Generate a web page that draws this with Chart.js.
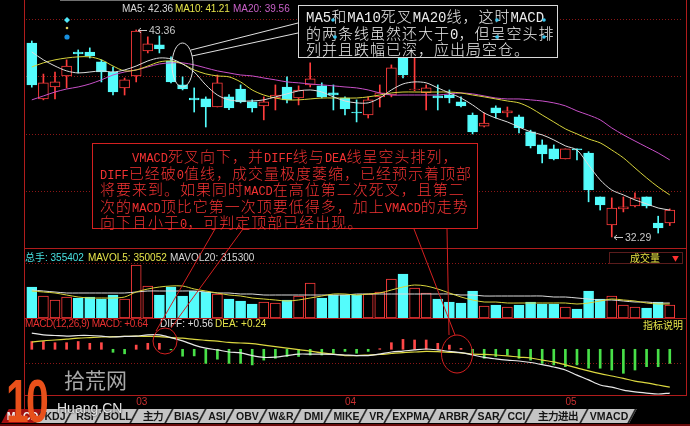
<!DOCTYPE html>
<html lang="zh-CN">
<head>
<meta charset="utf-8">
<title>MACD 顶部形态</title>
<script src="https://cdn.jsdelivr.net/npm/chart.js@4.4.1/dist/chart.umd.min.js"></script>
<style>
html, body { margin: 0; padding: 0; background: #000; }
#stage { position: relative; width: 690px; height: 426px; overflow: hidden; background: #000;
  font-family: "Liberation Sans", Arial, sans-serif; }
.pane { position: absolute; left: 26px; width: 657px; }
.txt { position: absolute; font-size: 10px; line-height: 12px; white-space: nowrap; }
.rule { position: absolute; background: #b01c1c; }
.note { position: absolute; background: #000; white-space: nowrap; font-family: "Noto Sans CJK SC", sans-serif;
  font-size: 15px; line-height: 16.5px; letter-spacing: 1px; font-weight: 300; }
.note i { font-style: normal; font-family: "Liberation Mono", monospace; letter-spacing: 0; line-height: 0; }
#n1 { left: 298px; top: 5px; width: 251px; height: 49px; padding: 2px 0 0 7px; border: 1px solid #d8d8d8; color: #ececec; }
#n1 i { font-size: 14px; }
#n2 { left: 92px; top: 143px; width: 377px; height: 80px; padding: 4px 0 0 7px; border: 1px solid #d42020; color: #f23232; }
#n2 i { font-size: 12px; }
#volbox { position: absolute; left: 609px; top: 252px; width: 72px; height: 10px; border: 1px solid #5a1c1c;
  font-family: "Noto Sans CJK SC", sans-serif; font-size: 10px; line-height: 10px; color: #e8e040; }
#tabs { position: absolute; left: 5px; top: 409px; height: 14px; display: flex; }
.tab { position: relative; height: 14px; }
.tab::before { content: ""; position: absolute; left: 0; right: 0; top: 0; bottom: 0; background: #c4c4c4;
  border-right: 2px solid #2a2a2a; transform: skewX(-28deg); }
.tab.sel::before { background: #a01010; }
.tab b { position: relative; display: block; text-align: center; font: bold 10.5px "Liberation Sans", Arial, sans-serif;
  line-height: 14px; color: #141414; }
.tab.sel b { color: #f0f0f0; }
#logo10 { position: absolute; left: 6px; top: 366px; font: bold 62px "Liberation Sans", Arial, sans-serif;
  color: #e8501a; letter-spacing: -4px; transform: scaleX(0.66); transform-origin: left top; line-height: 70px; }
#logocn { position: absolute; left: 64px; top: 366px; font-family: "Noto Sans CJK SC", sans-serif; font-size: 21px;
  line-height: 26px; color: #a8a8a8; }
#logoen { position: absolute; left: 57px; top: 400px; font-size: 14px; line-height: 17px; color: #e4e4e4;
  text-shadow: 0 0 2px #000; }
</style>
</head>
<body>
<div id="stage">
  <div class="pane" style="top:0;height:248px"><canvas id="kline" width="657" height="248"></canvas></div>
  <div class="pane" style="top:248px;height:70px"><canvas id="vol" width="657" height="70"></canvas></div>
  <div class="pane" style="top:318px;height:91px"><canvas id="macd" width="657" height="91"></canvas></div>

  <div class="rule" style="left:24px;top:0;width:1px;height:409px"></div>
  <div class="rule" style="left:686px;top:0;width:1px;height:396px"></div>
  <div class="rule" style="left:25px;top:248px;width:661px;height:1px"></div>
  <div class="rule" style="left:25px;top:318px;width:661px;height:1px"></div>
  <div class="rule" style="left:25px;top:395px;width:661px;height:1px"></div>
  <div style="position:absolute;left:60px;top:0;width:170px;height:1px;background:#707070"></div>

  <div class="txt" style="left:122px;top:3px;color:#d8d8d8">MA5: 42.36</div>
  <div class="txt" style="left:175px;top:3px;color:#e6e44a;letter-spacing:-0.2px">MA10: 41.21</div>
  <div class="txt" style="left:233px;top:3px;color:#c860c8">MA20: 39.56</div>

  <div class="txt" style="left:25px;top:252px;color:#48e0e0">总手: 355402</div>
  <div class="txt" style="left:88px;top:252px;color:#e6e44a">MAVOL5: 350052</div>
  <div class="txt" style="left:170px;top:252px;color:#d8d8d8">MAVOL20: 315300</div>
  <div id="volbox"><span style="position:absolute;left:20px;top:0">成交量</span><span style="position:absolute;right:3px;top:0;color:#ff3030;font-size:7px">▼</span></div>

  <div class="txt" style="left:25px;top:318px;color:#e83030;letter-spacing:-0.4px">MACD(12,26,9) MACD: +0.64</div>
  <div class="txt" style="left:160px;top:318px;color:#e0e0e0">DIFF: +0.56</div>
  <div class="txt" style="left:215px;top:318px;color:#e6e44a">DEA: +0.24</div>
  <div class="txt" style="left:643px;top:319px;color:#e6e44a;font-family:'Noto Sans CJK SC',sans-serif">指标说明</div>

  <div class="note" id="n1"><i>MA5</i>和<i>MA10</i>死叉<i>MA20</i>线，这时<i>MACD</i><br>的两条线虽然还大于<i>0</i>，但呈空头排<br>列并且跌幅已深，应出局空仓。</div>
  <div class="note" id="n2">　　<i>VMACD</i>死叉向下，并<i>DIFF</i>线与<i>DEA</i>线呈空头排列，<br><i>DIFF</i>已经破<i>0</i>值线，成交量极度萎缩，已经预示着顶部<br>将要来到。如果同时<i>MACD</i>在高位第二次死叉，且第二<br>次的<i>MACD</i>顶比它第一次顶要低得多，加上<i>VMACD</i>的走势<br>向下且小于<i>0</i>，可判定顶部已经出现。</div>

  <svg width="690" height="426" style="position:absolute;left:0;top:0">
    <g fill="none" stroke-width="1">
      <ellipse cx="182.5" cy="65" rx="10.5" ry="22" stroke="#e0e0e0"/>
      <line x1="191" y1="50" x2="298" y2="23" stroke="#e0e0e0"/>
      <line x1="192" y1="56" x2="298" y2="33" stroke="#e0e0e0"/>
      <ellipse cx="165" cy="341" rx="12" ry="13" stroke="#d42020"/>
      <ellipse cx="457" cy="354" rx="15.5" ry="19" stroke="#d42020"/>
      <line x1="215" y1="229" x2="156" y2="331" stroke="#d42020"/>
      <line x1="243" y1="229" x2="171" y2="328" stroke="#d42020"/>
      <line x1="414" y1="229" x2="455" y2="335" stroke="#d42020"/>
      <line x1="447" y1="229" x2="449" y2="335" stroke="#d42020"/>
    </g>
    <g fill="#38c8f0">
      <path d="M67 17 L70 20 L67 23 L64 20 Z" fill="#50e8f8"/>
      <circle cx="67" cy="28" r="1.3" fill="#e0d060"/>
      <circle cx="67" cy="37" r="2.6" fill="#1890e0"/>
      <circle cx="333" cy="20" r="1.8"/><circle cx="335" cy="37" r="1.8"/>
      <circle cx="497" cy="20" r="1.8"/><circle cx="497" cy="37" r="1.8"/>
      <circle cx="544" cy="20" r="1.8"/><circle cx="544" cy="37" r="1.8"/>
    </g>
  </svg>

  <div id="tabs"></div>
  <div style="position:absolute;left:0;top:424px;width:690px;height:2px;background:#6a0a0a"></div>
  <div id="logo10">10</div>
  <div id="logocn">拾荒网</div>
  <div id="logoen">Huang.CN</div>
</div>

<script>
// daily candles (left to right)
const open = [42.66,39.67,40.31,40.90,42.18,42.18,41.65,41.11,40.26,40.90,
  42.24,42.56,41.70,40.42,39.72,39.67,39.24,39.78,40.20,39.51,
  39.30,39.72,40.31,39.72,40.42,40.37,39.99,39.72,38.97,38.81,
  39.78,39.88,42.29,40.15,40.00,39.83,39.88,39.51,38.81,38.22,
  39.19,38.92,38.71,37.91,37.21,37.00,36.46,37.00,36.78,34.43,
  32.93,33.79,33.95,34.43,33.03,33.04];
const high = [42.77,41.00,41.11,41.76,42.29,42.40,41.76,41.38,40.79,43.36,
  42.99,43.04,41.92,40.85,40.26,39.78,40.95,39.90,40.42,39.62,
  39.78,40.42,40.85,40.37,41.60,40.53,40.42,39.78,39.62,39.78,
  40.42,41.49,42.45,42.02,40.42,40.42,40.15,39.78,38.92,38.92,
  39.30,39.24,38.81,38.00,37.48,37.21,37.00,37.00,36.85,34.43,
  34.38,34.43,34.65,34.43,33.40,33.79];
const low = [40.30,39.62,39.67,40.26,41.06,41.86,40.58,39.88,39.88,40.58,
  42.13,42.13,40.53,40.15,38.97,38.17,39.24,39.10,39.46,38.97,
  38.55,39.08,39.46,39.35,40.31,39.72,39.08,38.81,38.44,38.65,
  39.24,39.78,40.79,40.10,39.08,39.08,39.46,39.24,37.80,38.17,
  38.65,38.71,37.85,37.05,36.25,36.41,36.46,36.41,34.17,33.73,
  32.29,33.63,33.90,33.84,32.50,32.90];
const close = [40.42,40.53,40.58,41.43,42.08,41.97,41.11,40.04,40.69,43.30,
  42.61,42.34,40.58,40.20,39.62,39.24,40.53,39.19,39.51,39.19,
  39.51,39.88,39.62,40.15,40.74,39.78,39.88,39.14,38.92,39.62,
  39.99,41.33,40.95,40.20,40.26,39.72,39.72,39.30,37.91,38.38,
  38.92,39.03,38.12,37.16,36.73,36.46,37.00,36.94,34.80,34.00,
  33.84,33.90,34.38,33.95,32.77,33.73];

const ma5 = [42.18,41.76,41.43,41.17,41.06,41.11,41.17,41.11,41.22,41.43,
  41.70,41.86,41.81,41.54,41.11,40.42,39.88,39.62,39.56,39.56,
  39.62,39.78,39.94,40.10,40.15,40.04,39.78,39.56,39.46,39.46,
  39.72,40.15,40.47,40.58,40.53,40.26,39.99,39.72,39.35,38.92,
  38.65,38.44,38.17,37.91,37.75,37.48,37.16,36.94,36.14,35.34,
  34.80,34.54,34.27,34.06,33.84,33.73];
const ma10 = [41.38,41.60,41.76,41.86,41.92,41.92,41.76,41.43,41.17,41.22,
  41.43,41.65,41.70,41.54,41.22,41.01,40.90,40.85,40.58,40.15,
  39.88,39.72,39.62,39.62,39.67,39.72,39.72,39.72,39.72,39.78,
  39.88,39.99,40.04,40.04,40.04,40.04,40.04,39.99,39.88,39.78,
  39.67,39.56,39.46,39.19,38.81,38.44,38.07,37.80,37.53,37.32,
  36.94,36.52,35.98,35.45,34.96,34.54];
const ma20 = [39.62,39.83,40.04,40.20,40.31,40.47,40.69,40.95,41.11,41.22,
  41.38,41.54,41.60,41.60,41.49,41.33,41.17,41.06,40.95,40.90,
  40.79,40.69,40.58,40.53,40.47,40.42,40.37,40.31,40.26,40.15,
  39.99,39.88,39.88,39.88,39.88,39.88,39.94,39.99,39.94,39.83,
  39.72,39.67,39.67,39.62,39.56,39.46,39.30,39.03,38.81,38.55,
  38.12,37.75,37.42,37.10,36.78,36.41];

const volume = [465000,330000,270000,315000,300000,315000,285000,345000,285000,795000,
  480000,345000,465000,330000,405000,390000,360000,285000,255000,210000,
  240000,225000,270000,330000,525000,300000,345000,345000,345000,360000,
  390000,585000,660000,450000,375000,285000,240000,225000,405000,180000,
  195000,165000,195000,240000,210000,210000,165000,135000,405000,285000,
  330000,195000,165000,150000,240000,195000];
const mavol5 = [405000,390000,375000,345000,315000,300000,300000,300000,315000,390000,
  435000,465000,480000,480000,435000,405000,375000,345000,330000,300000,
  285000,270000,255000,270000,300000,330000,360000,360000,345000,360000,
  375000,420000,465000,495000,480000,435000,375000,315000,270000,240000,
  240000,225000,225000,225000,225000,225000,225000,210000,225000,255000,
  285000,270000,255000,225000,210000,210000];
const mavol20 = [420000,405000,390000,375000,375000,375000,375000,375000,375000,390000,
  405000,405000,405000,405000,405000,390000,375000,375000,360000,360000,
  345000,345000,345000,345000,345000,345000,345000,345000,360000,360000,
  360000,360000,360000,360000,360000,360000,360000,345000,345000,330000,
  330000,330000,330000,330000,330000,315000,315000,300000,285000,270000,
  270000,255000,240000,240000,225000,225000];

const diff = [0.54,0.48,0.46,0.44,0.46,0.46,0.44,0.41,0.43,0.44,
  0.48,0.48,0.39,0.28,0.14,0.04,-0.02,-0.09,-0.12,-0.21,
  -0.27,-0.26,-0.21,-0.16,-0.16,-0.16,-0.17,-0.19,-0.21,-0.21,
  -0.16,-0.09,-0.06,-0.02,0.01,-0.02,-0.07,-0.11,-0.19,-0.27,
  -0.32,-0.36,-0.39,-0.44,-0.51,-0.59,-0.69,-0.86,-1.02,-1.19,
  -1.26,-1.36,-1.42,-1.46,-1.49,-1.46];
const dea = [0.24,0.28,0.31,0.34,0.37,0.39,0.41,0.42,0.43,0.44,
  0.43,0.42,0.39,0.37,0.33,0.30,0.27,0.23,0.21,0.19,
  0.14,0.09,0.04,-0.01,-0.06,-0.12,-0.16,-0.21,-0.21,-0.19,
  -0.17,-0.14,-0.11,-0.09,-0.07,-0.08,-0.10,-0.12,-0.16,-0.17,
  -0.19,-0.22,-0.26,-0.29,-0.36,-0.42,-0.52,-0.62,-0.72,-0.81,
  -0.89,-0.97,-1.06,-1.12,-1.19,-1.26];
const macdBar = [0.26,0.26,0.22,0.22,0.26,0.20,0.22,-0.10,-0.15,0.14,
  0.20,0.20,-0.02,-0.23,-0.22,-0.47,-0.33,-0.47,-0.47,-0.52,
  -0.36,-0.30,-0.24,-0.24,-0.19,-0.19,-0.13,-0.07,-0.13,-0.07,
  0.02,0.22,0.33,0.31,0.31,0.20,0.14,0.03,-0.13,-0.30,
  -0.24,-0.19,-0.30,-0.36,-0.47,-0.52,-0.58,-0.52,-0.63,-0.63,
  -0.69,-0.80,-0.69,-0.58,-0.58,-0.47];

// month marks on the date axis (candle number where a month starts)
const monthAt = [10, 28, 47];
const monthLabels = ["03", "04", "05"];

// dotted grid levels
const priceGrid = [43.9, 40.85, 37.75, 34.7];
const volGrid = [810000];
const macdGrid = [-0.46];

const tabs = [["MACD",35],["KDJ",30],["RSI",30],["BOLL",35],["主力",35],["BIAS",33],["ASI",28],["OBV",33],
  ["W&R",34],["DMI",31],["MIKE",35],["VR",25],["EXPMA",44],["ARBR",41],["SAR",29],["CCI",27],["主力进出",55],["VMACD",48]];

const UP = "#ff3c3c";
const DOWN = "#54fcfc";
const GRID = "#8a1616";

const xs = open.map((_, i) => i + 1);
const isUp = xs.map((_, i) => close[i] >= open[i]);
const pts = arr => arr.map((v, i) => ({ x: i + 1, y: v }));

function xAxis(show) {
    return {
        type: "linear",
        min: 0.5,
        max: 57.14,
        offset: false,
        display: show,
        grid: { display: false, drawTicks: false },
        border: { display: false },
        afterBuildTicks: axis => { axis.ticks = monthAt.map(v => ({ value: v })); },
        ticks: {
            callback: (v, i) => monthLabels[i],
            align: "start",
            color: "#c83030",
            font: { size: 10, family: "Liberation Sans" },
            padding: 1,
            maxRotation: 0,
            autoSkip: false
        }
    };
}

function yAxis(min, max, levels) {
    return {
        min: min,
        max: max,
        beginAtZero: false,
        afterBuildTicks: axis => { axis.ticks = levels.map(v => ({ value: v })); },
        ticks: { display: false },
        grid: { color: GRID, drawTicks: false },
        border: { display: false, dash: [1, 2] }
    };
}

function line(data, color, width) {
    return {
        type: "line",
        data: pts(data),
        borderColor: color,
        borderWidth: width || 1,
        pointRadius: 0,
        tension: 0.3,
        order: 0
    };
}

const baseOptions = {
    responsive: false,
    animation: false,
    events: [],
    layout: { padding: 0 },
    plugins: { legend: { display: false }, tooltip: { enabled: false } }
};

// marks the highest high and lowest low with an arrow and the price
const hiLoMarks = {
    id: "hiLoMarks",
    afterDatasetsDraw(chart) {
        const { ctx, scales } = chart;
        const hi = Math.max(...high);
        const lo = Math.min(...low);
        const marks = [[high.indexOf(hi) + 1, hi], [low.indexOf(lo) + 1, lo]];
        ctx.save();
        ctx.strokeStyle = "#c8c8c8";
        ctx.fillStyle = "#c8c8c8";
        ctx.lineWidth = 1;
        ctx.font = "10.5px 'Liberation Sans'";
        ctx.textBaseline = "middle";
        marks.forEach(([i, v]) => {
            const px = Math.round(scales.x.getPixelForValue(i)) + 2;
            const py = Math.round(scales.y.getPixelForValue(v)) + 0.5;
            ctx.beginPath();
            ctx.moveTo(px, py);
            ctx.lineTo(px + 9, py);
            ctx.moveTo(px, py);
            ctx.lineTo(px + 3, py - 2.5);
            ctx.moveTo(px, py);
            ctx.lineTo(px + 3, py + 2.5);
            ctx.stroke();
            ctx.fillText(v.toFixed(2), px + 11, py + 1);
        });
        ctx.restore();
    }
};

new Chart(document.getElementById("kline"), {
    type: "bar",
    data: {
        datasets: [
            line(ma5, "#dcdcdc"),
            line(ma10, "#d8d43c"),
            line(ma20, "#c850c8"),
            {
                data: xs.map((x, i) => ({ x: x, y: [open[i], close[i]] })),
                backgroundColor: isUp.map(u => u ? "#000" : DOWN),
                borderColor: isUp.map(u => u ? UP : DOWN),
                borderWidth: 1,
                borderSkipped: false,
                barThickness: 10,
                minBarLength: 1,
                grouped: false,
                order: 1
            },
            {
                data: xs.map((x, i) => ({ x: x, y: [low[i], high[i]] })),
                backgroundColor: isUp.map(u => u ? UP : DOWN),
                borderWidth: 0,
                barThickness: 1,
                grouped: false,
                order: 2
            }
        ]
    },
    options: {
        ...baseOptions,
        scales: {
            x: xAxis(false),
            y: yAxis(31.70, 44.96, priceGrid)
        }
    },
    plugins: [hiLoMarks]
});

new Chart(document.getElementById("vol"), {
    type: "bar",
    data: {
        datasets: [
            line(mavol5, "#d8d43c"),
            line(mavol20, "#dcdcdc"),
            {
                data: pts(volume),
                backgroundColor: isUp.map(u => u ? "#000" : DOWN),
                borderColor: isUp.map(u => u ? UP : DOWN),
                borderWidth: 1,
                borderSkipped: false,
                barThickness: 10,
                grouped: false,
                order: 1
            }
        ]
    },
    options: {
        ...baseOptions,
        scales: {
            x: xAxis(false),
            y: yAxis(0, 1050000, volGrid)
        }
    }
});

new Chart(document.getElementById("macd"), {
    type: "bar",
    data: {
        datasets: [
            line(diff, "#e8e8e8", 1.2),
            line(dea, "#dcd840", 1.2),
            {
                data: pts(macdBar),
                backgroundColor: macdBar.map(v => v >= 0 ? "#ff4848" : "#48e048"),
                borderWidth: 0,
                barThickness: 2,
                grouped: false,
                order: 1
            }
        ]
    },
    options: {
        ...baseOptions,
        scales: {
            x: xAxis(true),
            y: yAxis(-1.523, 1.043, macdGrid)
        }
    }
});

const tabBar = document.getElementById("tabs");
tabs.forEach(([name, w], i) => {
    const t = document.createElement("span");
    t.className = i === 0 ? "tab sel" : "tab";
    t.style.width = w + "px";
    const b = document.createElement("b");
    b.textContent = name;
    t.appendChild(b);
    tabBar.appendChild(t);
});
</script>
</body>
</html>
